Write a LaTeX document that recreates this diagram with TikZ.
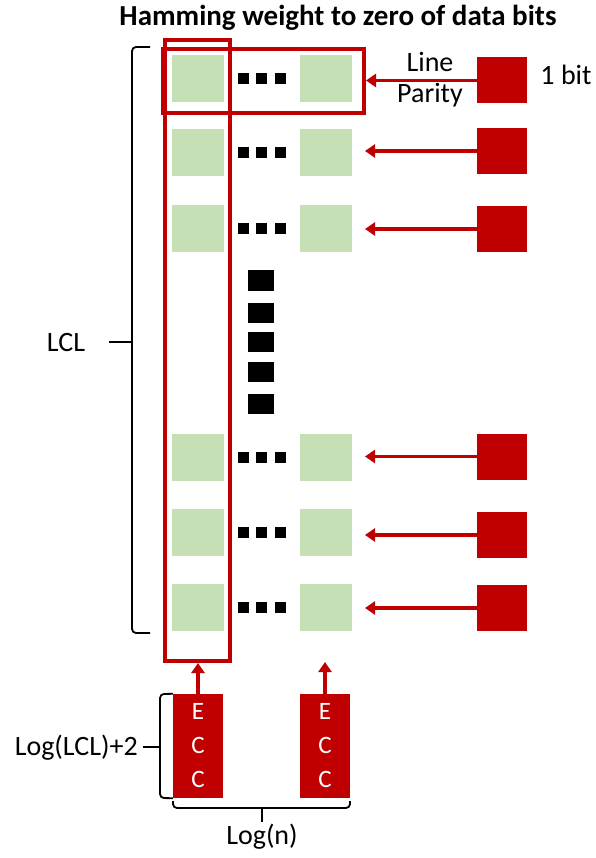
\documentclass[tikz,border=0pt]{standalone}
\usepackage{fontspec}
\setmainfont{Carlito}
\usetikzlibrary{arrows.meta}
\definecolor{cellgreen}{HTML}{C5E0B4}
\definecolor{darkred}{HTML}{C00000}
\tikzset{
  cell/.style={fill=cellgreen, minimum width=52pt, minimum height=47pt, inner sep=0pt},
  paritybit/.style={fill=darkred, minimum width=50pt, minimum height=46pt, inner sep=0pt},
  dotsq/.style={fill=black, minimum width=11pt, minimum height=11pt, inner sep=0pt},
  bigdot/.style={fill=black, minimum width=26pt, minimum height=20pt, inner sep=0pt},
  frame/.style={draw=darkred, line width=4pt, inner sep=0pt},
  redarrow/.style={draw=darkred, line width=3.5pt, -{Triangle[length=10pt,width=13pt]}},
  eccbox/.style={fill=darkred, text=white, minimum width=50pt, minimum height=104pt,
    inner sep=0pt, align=center, font=\fontsize{25}{34}\selectfont},
  lbl/.style={font=\fontsize{28}{30}\selectfont, inner sep=0pt, anchor=base},
  bracket/.style={draw=black, line width=1.8pt, rounded corners=4pt},
}
\begin{document}
\begin{tikzpicture}[x=1pt, y=-1pt]
\useasboundingbox (0,0) rectangle (595,858);

% title
\node[lbl, font=\fontsize{29}{32}\selectfont\bfseries] (title) at (338,26) {Hamming weight to zero of data bits};

% rows of data cells with horizontal ellipsis
\foreach \i/\y in {1/78.5, 2/152.5, 3/229, 4/457, 5/532, 6/607} {
  \node[cell] (l\i) at (198,\y) {};
  \node[cell] (r\i) at (326,\y) {};
  \node[dotsq] (d\i a) at (243,\y) {};
  \node[dotsq] (d\i b) at (261.5,\y) {};
  \node[dotsq] (d\i c) at (280,\y) {};
}

% vertical ellipsis
\foreach \k/\y in {1/280.5, 2/313, 3/341.5, 4/372, 5/404} {
  \node[bigdot] (v\k) at (261,\y) {};
}

% frames: first column and first line
\node[frame, minimum width=65pt, minimum height=621pt] (col) at (197.5,350.5) {};
\node[frame, minimum width=201pt, minimum height=64pt] (line) at (263.5,81) {};

% parity bits and their arrows
\foreach \i/\y in {1/80.5, 2/151, 3/229, 4/456.5, 5/535, 6/608} {
  \node[paritybit] (p\i) at (502,\y) {};
  \coordinate (h\i) at (365,\y);
}
\draw[redarrow] (p1.west) -- (p1.west -| line.east);
\foreach \i in {2,...,6} {
  \draw[redarrow] (p\i.west) -- (h\i);
}

\node[lbl] (lineword) at (430,72) {Line};
\node[lbl] (parityword) at (430,103) {Parity};
\node[lbl] (onebit) at (566,85) {1 bit};

% ECC columns
\node[eccbox] (ecc1) at (198,746) {E\\C\\C};
\node[eccbox] (ecc2) at (325,746) {E\\C\\C};
\draw[redarrow] (ecc1.north) -- (ecc1.north |- col.south);
\coordinate (colend) at (325,662);
\draw[redarrow] (ecc2.north) -- (colend);

% LCL bracket
\coordinate (lcltop) at (150,47);
\coordinate (lclbot) at (150,633);
\coordinate (lcltip) at (132,342);
\node[lbl] (lcl) at (66,351) {LCL};
\draw[bracket] (lcltop) -- (132,47) -- (lcltip);
\draw[bracket] (lcltip) -- (132,633) -- (lclbot);
\draw[bracket] (lcltip) -- (109,342);

% ECC height bracket
\coordinate (ecctip) at (160,747);
\draw[bracket] (ecc1.north west) -- (160,694) -- (ecctip);
\draw[bracket] (ecctip) -- (160,798) -- (ecc1.south west);
\draw[bracket] (ecctip) -- (143,747);
\node[lbl, anchor=base east] (logl) at (138,755) {Log(LCL)+2};

% ECC width bracket
\coordinate (widthtip) at (262,808);
\draw[bracket] (173,801) -- (173,808) -- (widthtip);
\draw[bracket] (widthtip) -- (350,808) -- (350,801);
\draw[bracket] (widthtip) -- (262,822);
\node[lbl] (logn) at (262,844) {Log(n)};
\end{tikzpicture}
\end{document}
